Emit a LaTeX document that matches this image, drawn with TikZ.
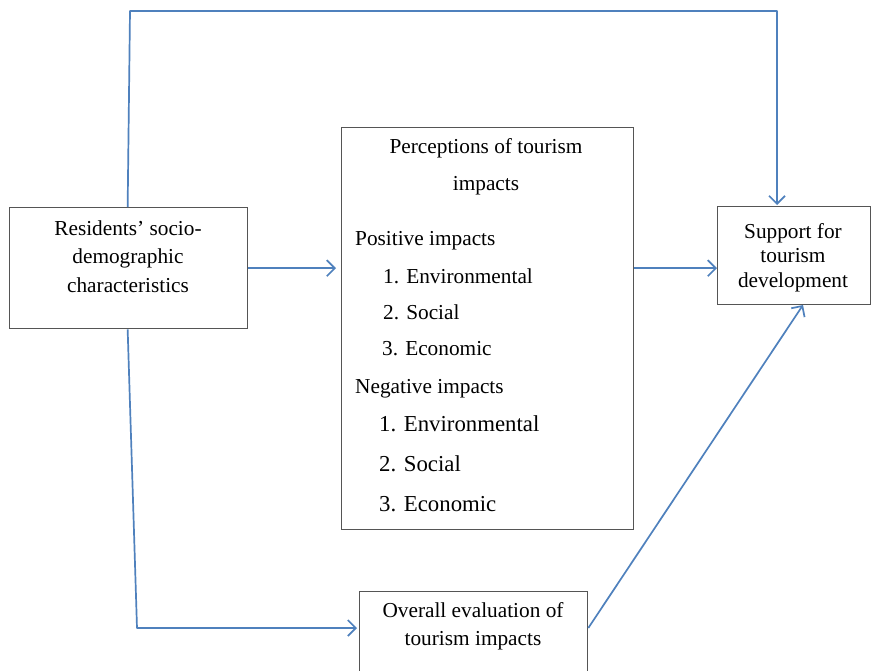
\documentclass[tikz,border=0pt]{standalone}
\usepackage{fontspec}
\setmainfont{Liberation Serif}
\usetikzlibrary{arrows.meta,calc}
\definecolor{linkblue}{HTML}{4F81BD}
\definecolor{boxgray}{HTML}{555555}
\begin{document}
\begin{tikzpicture}[x=1pt,y=-1pt,
  box/.style={draw=boxgray,line width=1.3pt,inner sep=0pt,anchor=north west,fill=white},
  txt/.style={font=\fontsize{21.3}{25}\selectfont,inner sep=0pt,anchor=base,text=black},
  itm/.style={txt,anchor=base west},
  itmb/.style={itm,font=\fontsize{22.8}{27}\selectfont},
  link/.style={draw=linkblue,line width=1.7pt,line join=round},
  tip/.style={-{Straight Barb[length=8pt,width=16pt]}}]
\useasboundingbox (0,0) rectangle (873,670);
\clip (0,0) rectangle (873,670);
\fill[white] (0,0) rectangle (873,670);

% boxes
\node[box,minimum width=238,minimum height=121] (res) at (9,207) {};
\node[box,minimum width=292,minimum height=402] (per) at (341,127) {};
\node[box,minimum width=153,minimum height=98] (sup) at (717,206) {};
\node[box,minimum width=228,minimum height=110] (eval) at (359,591) {};

% left box text
\node[txt] (r1) at (128,235) {Residents’ socio-};
\node[txt] (r2) at (128,263) {demographic};
\node[txt] (r3) at (128,292) {characteristics};

% support box text
\node[txt] (s1) at (793,238) {Support for};
\node[txt] (s2) at (793,262) {tourism};
\node[txt] (s3) at (793,287) {development};

% evaluation box text
\node[txt] (e1) at (473,617) {Overall evaluation of};
\node[txt] (e2) at (473,645) {tourism impacts};

% perceptions box text
\node[txt] (p1) at (486,153) {Perceptions of tourism};
\node[txt] (p2) at (486,190) {impacts};
\node[itm] (p3) at (355,245) {Positive impacts};
\node[itm] (p4) at (383,283) {1. Environmental};
\node[itm] (p5) at (383,319) {2. Social};
\node[itm] (p6) at (382,355) {3. Economic};
\node[itm] (p7) at (355,393) {Negative impacts};
\node[itmb] (p8) at (379,431) {1. Environmental};
\node[itmb] (p9) at (379,471) {2. Social};
\node[itmb] (p10) at (379,511) {3. Economic};

% bend points
\coordinate (tl) at (130,11);
\coordinate (tr) at (777,11);
\coordinate (bl) at (137,628);
\coordinate (dt) at (803,305);

% connectors
\draw[link,tip] ($(res.north)+(-1,0)$) -- (tl) -- (tr) -- ($(tr |- sup.north)+(0,-1)$);
\draw[link,tip,shorten >=5pt] (res.east) -- (per.west |- res.east);
\draw[link,tip] (per.east |- res.east) -- (sup.west |- res.east);
\draw[link,tip,shorten >=2pt] ($(res.south)+(-1,0)$) -- (bl) -- (eval.west |- bl);
\draw[link,tip] (eval.east |- bl) -- (dt);
\end{tikzpicture}
\end{document}
